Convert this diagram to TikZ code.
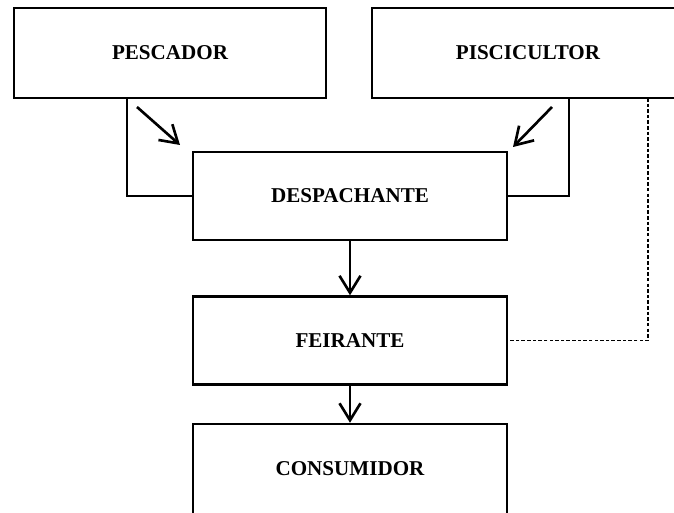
\documentclass[tikz,border=0pt]{standalone}
\usepackage{fontspec}
\setmainfont{Liberation Serif}
\usetikzlibrary{arrows.meta}

\tikzset{
	actor/.style={draw, line width=1.4pt, minimum width=6.24cm, minimum height=1.8cm, inner sep=0pt, font=\fontsize{12}{14}\selectfont\bfseries},
	flow/.style={line width=1.5pt, -{Straight Barb[length=3.4mm,width=4.2mm,line width=1.5pt]}},
	link/.style={line width=0.6pt},
	indirect/.style={line width=0.6pt, dash pattern=on 2pt off 1.2pt}
}

\begin{document}
\begin{tikzpicture}
		\useasboundingbox (0,0) rectangle (13.48,10.24);

		%Producers
		\node[actor] (pesc) at (3.40,9.18) {PESCADOR};
		\node[actor] (pisc) at (10.56,9.18) {PISCICULTOR\hspace{0.26cm}};

		%Chain
		\node[actor, minimum width=6.28cm, minimum height=1.76cm] (desp) at (7.00,6.32) {DESPACHANTE};
		\node[actor, minimum width=6.28cm, minimum height=1.76cm] (feir) at (7.00,3.43) {FEIRANTE};
		\node[actor, minimum width=6.28cm, minimum height=1.8cm] (cons) at (7.00,0.86) {CONSUMIDOR};

		%free arrows
		\coordinate (pesc_a1) at (2.74,8.10);
		\coordinate (pesc_a2) at (3.60,7.34);
		\coordinate (pisc_a1) at (11.04,8.10);
		\coordinate (pisc_a2) at (10.26,7.30);
		\coordinate (pesc_l) at (2.54,8.28);
		\coordinate (pisc_l) at (11.38,8.28);
		\coordinate (pisc_d) at (12.96,8.28);

		%connections
		\draw[link] (pesc_l) |- (desp.west);
		\draw[link] (pisc_l) |- (desp.east);
		\draw[indirect] (pisc_d) |- (feir.east);
		\draw[flow] (pesc_a1) -- (pesc_a2);
		\draw[flow] (pisc_a1) -- (pisc_a2);
		\draw[flow] (desp.south) -- (feir.north);
		\draw[flow] (feir.south) -- (cons.north);

	\end{tikzpicture}
\end{document}
